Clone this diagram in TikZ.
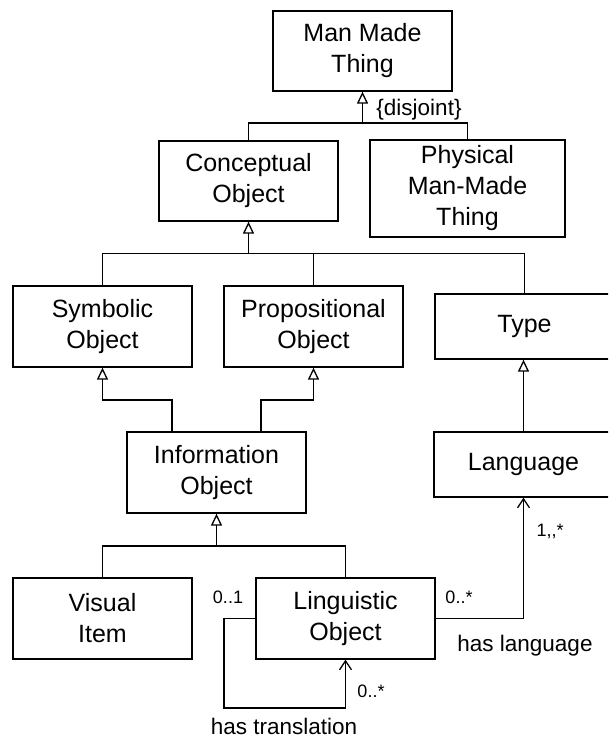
\documentclass[tikz,border=0pt]{standalone}
\usepackage{fontspec}
\setmainfont{Liberation Sans}
\usetikzlibrary{arrows.meta}

\begin{document}
\begin{tikzpicture}[x=1pt,y=-1pt,
	box/.style={draw=black, line width=1.3pt, inner sep=0pt, align=center, minimum width=179pt, minimum height=81pt, font=\fontsize{25}{31}\selectfont},
	gen/.style={line width=1.3pt, -{Triangle[open,length=12pt,width=11pt]}},
	assoc/.style={line width=1.3pt, -{Straight Barb[length=9pt,width=12pt]}},
	link/.style={line width=1.3pt},
	lbl/.style={font=\fontsize{22.5}{26}\selectfont, inner sep=0pt},
	mult/.style={font=\fontsize{18}{20}\selectfont, inner sep=0pt}]
	
	%Background
	\useasboundingbox (0,0) rectangle (608,738);
	\clip (0,0) rectangle (608,738);
	\fill[white] (0,0) rectangle (608,738);

	%Classes
	\node[box, minimum height=80pt] (mmt) at (362.5,51) {Man Made\\Thing};
	\node[box, minimum height=80pt] (co) at (248.5,181) {Conceptual\\Object};
	\node[box, minimum width=195pt, minimum height=97pt] (pmmt) at (467.5,188.5) {Physical\\Man-Made\\Thing};
	\node[box] (so) at (102.5,326.5) {Symbolic\\Object};
	\node[box] (po) at (313.5,326.5) {Propositional\\Object};
	\node[box, minimum height=65pt] (ty) at (524.5,326.5) {Type};
	\node[box] (io) at (216.5,472.5) {Information\\Object};
	\node[box, minimum height=65pt] (lang) at (523.5,464.5) {Language};
	\node[box] (vi) at (102.5,618.5) {Visual\\Item};
	\node[box] (lo) at (345.5,618.5) {Linguistic\\Object};

	%Man Made Thing
	\coordinate (j1) at (362.5,123);
	\draw[gen] (j1) -- (mmt.south);
	\draw[link] (co.north) |- (j1) -| (pmmt.north);
	\node[lbl] (disj) at (419,110) {\{disjoint\}};

	%Conceptual Object
	\coordinate (j2) at (248.5,253.5);
	\draw[gen] (j2) -- (co.south);
	\draw[link] (so.north) |- (j2) -| (ty.north);
	\draw[link] (po.north) -- (po.north |- j2);

	%Information Object
	\coordinate (k1) at (0,400);
	\draw[gen] ([xshift=-44.5pt]io.north) |- (k1 -| so.south) -- (so.south);
	\draw[gen] ([xshift=44.5pt]io.north) |- (k1 -| po.south) -- (po.south);
	\coordinate (j3) at (216.5,546);
	\draw[gen] (j3) -- (io.south);
	\draw[link] (vi.north) |- (j3) -| (lo.north);

	%Type
	\draw[gen] (lang.north) -- (lang.north |- ty.south);

	%has language
	\draw[assoc] (lo.east) -| (lang.south);
	\node[mult] (m1) at (459,597) {0..*};
	\node[mult] (m2) at (550,531) {1,{},*};
	\node[lbl] (hl) at (525,646) {has language};

	%has translation
	\coordinate (t1) at (224,708);
	\draw[assoc] (lo.west) -| (t1) -| (lo.south);
	\node[mult] (m3) at (228,597) {0..1};
	\node[mult] (m4) at (371,691) {0..*};
	\node[lbl] (ht) at (284,726) {has translation};

\end{tikzpicture}
\end{document}
